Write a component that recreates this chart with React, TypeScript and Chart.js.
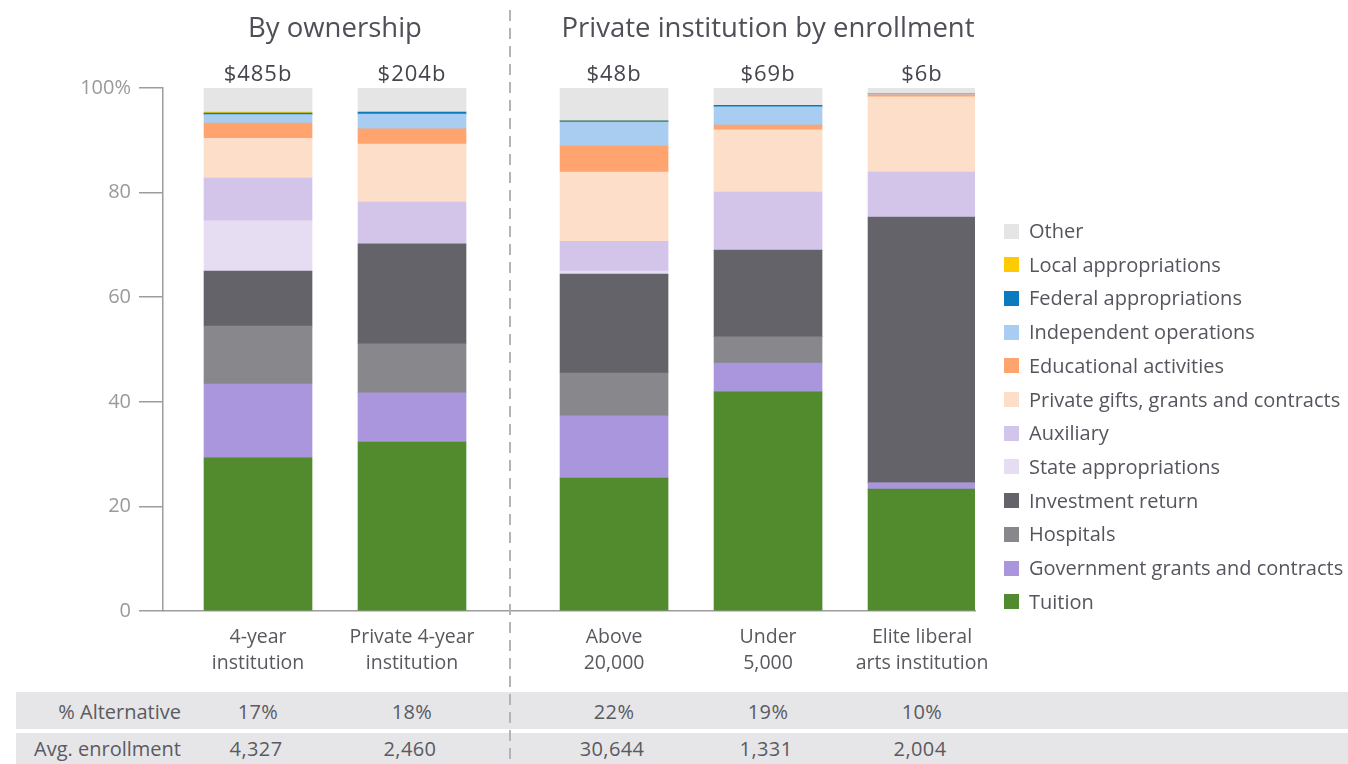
import React, { useEffect, useRef, useState } from "react";
import { Chart, registerables } from "chart.js";
Chart.register(...registerables);

// ---------- data ----------
const categories: string[][] = [
  ["4-year", "institution"],
  ["Private 4-year", "institution"],
  ["Above", "20,000"],
  ["Under", "5,000"],
  ["Elite liberal", "arts institution"],
];
const groupOf = [0, 0, 1, 1, 1];
const groupTitles = ["By ownership", "Private institution by enrollment"];
const totals = ["$485b", "$204b", "$48b", "$69b", "$6b"];
const pctAlternative = ["17%", "18%", "22%", "19%", "10%"];
const avgEnrollment = ["4,327", "2,460", "30,644", "1,331", "2,004"];
const rowLabels = ["% Alternative", "Avg. enrollment"];
const yTickValues = [0, 20, 40, 60, 80, 100];

const tuition = [29.3, 32.3, 25.4, 41.9, 23.3];
const govGrants = [14.1, 9.4, 11.9, 5.5, 1.2];
const hospitals = [11.1, 9.4, 8.2, 5.0, 0];
const investment = [10.5, 19.1, 18.9, 16.6, 50.8];
const stateApprop = [9.6, 0, 0.6, 0, 0];
const auxiliary = [8.2, 8.0, 5.7, 11.1, 8.6];
const privateGifts = [7.6, 11.1, 13.2, 11.9, 14.4];
const educational = [2.9, 2.9, 5.0, 0.9, 0.4];
const independent = [1.6, 2.8, 4.6, 3.5, 0.2];
const federal = [0.3, 0.4, 0.2, 0.3, 0];
const localApprop = [0.2, 0, 0, 0, 0];
const other = [4.6, 4.6, 6.3, 3.3, 1.1];

const series = [
  { name: "Tuition", values: tuition, color: "#528a2e" },
  { name: "Government grants and contracts", values: govGrants, color: "#a996dc" },
  { name: "Hospitals", values: hospitals, color: "#88878c" },
  { name: "Investment return", values: investment, color: "#636369" },
  { name: "State appropriations", values: stateApprop, color: "#e6ddf3" },
  { name: "Auxiliary", values: auxiliary, color: "#d3c4ea" },
  { name: "Private gifts, grants and contracts", values: privateGifts, color: "#fddec8" },
  { name: "Educational activities", values: educational, color: "#ffa46e" },
  { name: "Independent operations", values: independent, color: "#a8cdf0" },
  { name: "Federal appropriations", values: federal, color: "#0c7bbd" },
  { name: "Local appropriations", values: localApprop, color: "#fdcb00" },
  { name: "Other", values: other, color: "#e6e5e6" },
];

// ---------- layout ----------
const W = 1348;
const H = 764;
const FONT = "'Open Sans', Roboto, sans-serif";
const SLOT = 0.617; // offset of first bar inside axis (in slot units)
const GROUP_GAP = 0.312;
const X_MAX = 5.273;
const xPos = categories.map((_, i) => i + SLOT + groupOf[i] * GROUP_GAP);

export default function App() {
  const canvasRef = useRef<HTMLCanvasElement | null>(null);
  const [centers, setCenters] = useState<number[]>(xPos.map((p) => 163 + p * 154));

  useEffect(() => {
    const canvas = canvasRef.current;
    if (!canvas) return;
    const chart = new Chart(canvas, {
      type: "bar",
      data: {
        datasets: series.map((s) => ({
          label: s.name,
          data: s.values.map((v, i) => ({ x: xPos[i], y: v })),
          backgroundColor: s.color,
          borderWidth: 0,
          barThickness: 108,
        })),
      },
      options: {
        responsive: false,
        maintainAspectRatio: false,
        animation: false,
        events: [],
        layout: { padding: { left: 0, top: 88, right: W - 975, bottom: H - 611 - 70 } },
        plugins: { legend: { display: false }, tooltip: { enabled: false }, title: { display: false } },
        scales: {
          x: {
            type: "linear",
            min: 0,
            max: X_MAX,
            offset: false,
            stacked: true,
            grid: { display: false, drawTicks: false, offset: false },
            border: { display: true, color: "#9c9c9c", width: 1.5 },
            afterBuildTicks: (scale: any) => {
              scale.ticks = xPos.map((v) => ({ value: v }));
            },
            afterFit: (scale: any) => {
              scale.height = 70;
            },
            ticks: {
              autoSkip: false,
              maxRotation: 0,
              padding: 13,
              color: "#58585f",
              font: { family: FONT, size: 19.5, lineHeight: 1.36 },
              callback: (_v: any, index: number) => categories[index],
            },
          },
          y: {
            type: "linear",
            min: 0,
            max: 100,
            stacked: true,
            afterBuildTicks: (scale: any) => {
              scale.ticks = yTickValues.map((v) => ({ value: v }));
            },
            afterFit: (scale: any) => {
              scale.width = 163;
            },
            grid: { drawOnChartArea: false, drawTicks: true, tickLength: 24, color: "#9c9c9c", lineWidth: 1.5 },
            border: { display: true, color: "#9c9c9c", width: 1.5 },
            ticks: {
              padding: 8,
              color: "#9a9a9a",
              font: { family: FONT, size: 20 },
              callback: (v: any) => (v === 100 ? "100%" : String(v)),
            },
          },
        },
      },
    });
    const xs = chart.scales.x;
    setCenters(xPos.map((p) => xs.getPixelForValue(p)));
    return () => chart.destroy();
  }, []);

  const groupCenter = (g: number) => {
    const idx = groupOf.map((gg, i) => (gg === g ? i : -1)).filter((i) => i >= 0);
    return (centers[idx[0]] + centers[idx[idx.length - 1]]) / 2;
  };

  const centered = (x: number, y: number, text: string, style: React.CSSProperties, key: string) => (
    <div
      key={key}
      style={{
        position: "absolute",
        left: x - 300,
        width: 600,
        top: y - 16,
        height: 32,
        lineHeight: "32px",
        textAlign: "center",
        whiteSpace: "nowrap",
        ...style,
      }}
    >
      {text}
    </div>
  );

  const legendItems = [...series].reverse();
  const tableText: React.CSSProperties = { fontSize: 20, color: "#5a5a62", letterSpacing: 0.4 };

  return (
    <div
      style={{
        position: "absolute",
        left: 0,
        top: 0,
        width: W,
        height: H,
        overflow: "hidden",
        background: "#fff",
        fontFamily: FONT,
      }}
    >
      {/* table rows */}
      <div style={{ position: "absolute", left: 16, top: 692, width: W - 16, height: 37, background: "#e6e6e8" }} />
      <div style={{ position: "absolute", left: 16, top: 733, width: W - 16, height: 40, background: "#e6e6e8" }} />
      {rowLabels.map((t, r) => (
        <div
          key={"rl" + r}
          style={{
            position: "absolute",
            left: 0,
            width: 181,
            top: r === 0 ? 696 : 733,
            height: 32,
            lineHeight: "32px",
            textAlign: "right",
            whiteSpace: "nowrap",
            fontSize: 20,
            color: "#5a5a62",
          }}
        >
          {t}
        </div>
      ))}
      {pctAlternative.map((t, i) => centered(centers[i], 712, t, tableText, "pa" + i))}
      {avgEnrollment.map((t, i) => centered(centers[i] - 2, 749, t, tableText, "ae" + i))}

      <canvas ref={canvasRef} width={W} height={H} style={{ position: "absolute", left: 0, top: 0, width: W, height: H }} />

      {/* group titles */}
      {groupTitles.map((t, g) =>
        centered(groupCenter(g), 27, t, { fontSize: 27.5, color: "#4f4f58" }, "gt" + g)
      )}
      {totals.map((t, i) =>
        centered(centers[i], 72, t, { fontSize: 22, color: "#45454f", letterSpacing: 1 }, "tt" + i)
      )}

      {/* separator */}
      <div
        style={{
          position: "absolute",
          left: 509,
          top: 10,
          width: 2,
          height: H - 10,
          background: "repeating-linear-gradient(to bottom, #b4b4b8 0px, #b4b4b8 11px, transparent 11px, transparent 18px)",
        }}
      />

      {/* legend */}
      {legendItems.map((s, k) => (
        <div key={"lg" + k} style={{ position: "absolute", left: 1004, top: 231 + k * 33.7 - 15, height: 30 }}>
          <div
            style={{ position: "absolute", left: 0, top: 7.5, width: 15, height: 15, background: s.color }}
          />
          <div
            style={{
              position: "absolute",
              left: 25,
              top: 0,
              height: 30,
              lineHeight: "30px",
              whiteSpace: "nowrap",
              fontSize: 20,
              color: "#55555e",
            }}
          >
            {s.name}
          </div>
        </div>
      ))}
    </div>
  );
}
